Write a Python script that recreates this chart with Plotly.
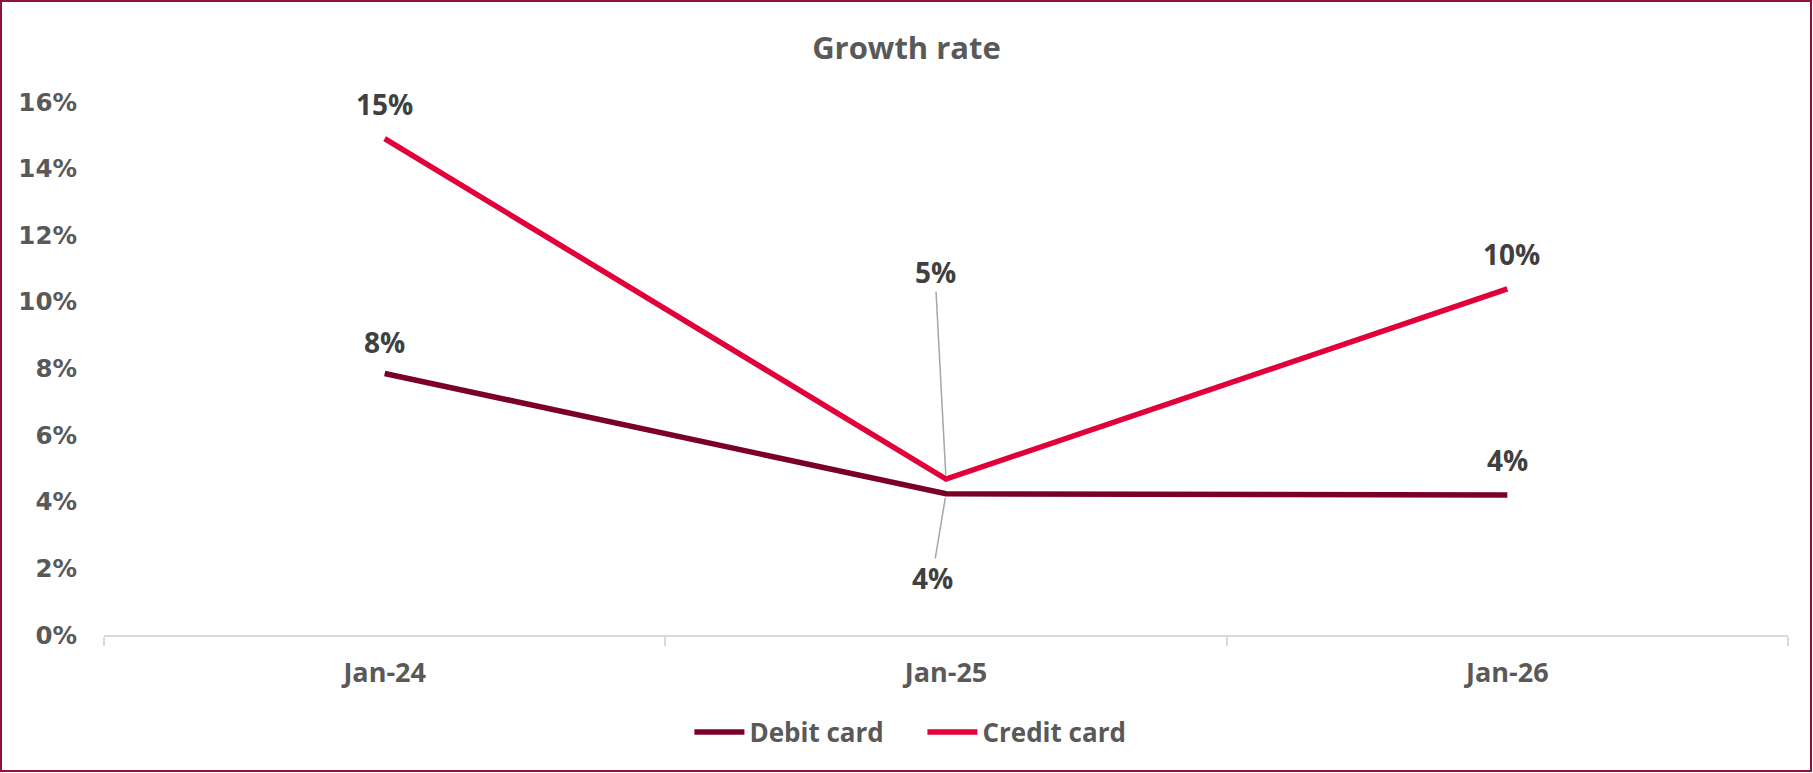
import plotly.graph_objects as go

categories = ["Jan-24", "Jan-25", "Jan-26"]
debit = [0.0785, 0.0424, 0.0420]
credit = [0.149, 0.0468, 0.1039]
debit_labels = ["8%", "4%", "4%"]
credit_labels = ["15%", "5%", "10%"]
y_ticks = [0, 0.02, 0.04, 0.06, 0.08, 0.10, 0.12, 0.14, 0.16]
y_tick_text = ["0%", "2%", "4%", "6%", "8%", "10%", "12%", "14%", "16%"]

W, H = 1813, 773
ML, MR, MT, MB = 104, 25, 102, 138
PW, PH = W - ML - MR, H - MT - MB

DEBIT_C = "#7A0025"
CREDIT_C = "#E2003B"
FONT = "Open Sans"

fig = go.Figure()
fig.add_trace(go.Scatter(x=categories, y=debit, name="Debit card", mode="lines",
                         line=dict(color=DEBIT_C, width=5.5)))
fig.add_trace(go.Scatter(x=categories, y=credit, name="Credit card", mode="lines",
                         line=dict(color=CREDIT_C, width=5.5)))

lab_font = dict(family=FONT, size=28, color="#404040", weight="bold")
offs_credit = [(0, -35, False), (-11, -207, True), (4, -35, False)]
offs_debit = [(0, -32, False), (-14, 84, True), (0, -35, False)]
for vals, labs, offs in [(credit, credit_labels, offs_credit), (debit, debit_labels, offs_debit)]:
    for c, v, t, (ax, ay, leader) in zip(categories, vals, labs, offs):
        if leader:
            fig.add_annotation(x=c, y=v, text=t, showarrow=True, arrowhead=0,
                               arrowcolor="#A6A6A6", arrowwidth=1.5, ax=ax, ay=ay,
                               standoff=4, font=lab_font, borderpad=0)
        else:
            fig.add_annotation(x=c, y=v, text=t, showarrow=False, xshift=ax, yshift=-ay,
                               yanchor="middle", font=lab_font)

# outer border
fig.add_shape(type="rect", xref="paper", yref="paper",
              x0=(1 - ML) / PW, x1=(W - 2 - ML) / PW,
              y0=-(H - 2 - MT - PH) / PH, y1=(MT - 1) / PH + 1,
              line=dict(color="#8B1538", width=2), layer="below")

fig.update_layout(
    width=W, height=H,
    margin=dict(l=ML, r=MR, t=MT, b=MB),
    paper_bgcolor="white", plot_bgcolor="white",
    title=dict(text="Growth rate", x=0.5, xanchor="center", y=1 - 48 / H,
               yanchor="middle", yref="container",
               font=dict(family=FONT, size=31, color="#595959", weight="bold")),
    showlegend=True,
    legend=dict(orientation="h", x=0.486, xanchor="center", y=-(732 - MT - PH) / PH,
                yanchor="middle", font=dict(family=FONT, size=26, color="#595959", weight="bold"),
                itemwidth=50, tracegroupgap=0, entrywidth=168),
    xaxis=dict(type="category", range=[-0.5, 2.5], showgrid=False, showline=True,
               linecolor="#D9D9D9", linewidth=1.5, ticks="outside", tickson="boundaries",
               ticklen=9, tickcolor="#D9D9D9", tickwidth=1.5, ticklabelstandoff=13,
               tickfont=dict(family=FONT, size=27, color="#595959", weight="bold"),
               zeroline=False, fixedrange=True),
    yaxis=dict(range=[0, 0.16], tickvals=y_ticks, ticktext=y_tick_text, showgrid=False,
               showline=False, zeroline=False, ticks="", ticklabelstandoff=26,
               tickfont=dict(family="DejaVu Sans", size=24.5, color="#595959", weight="bold"),
               fixedrange=True),
)

fig.write_html("out.html", post_script="document.body.style.margin='0';",
               config={"displayModeBar": False})
